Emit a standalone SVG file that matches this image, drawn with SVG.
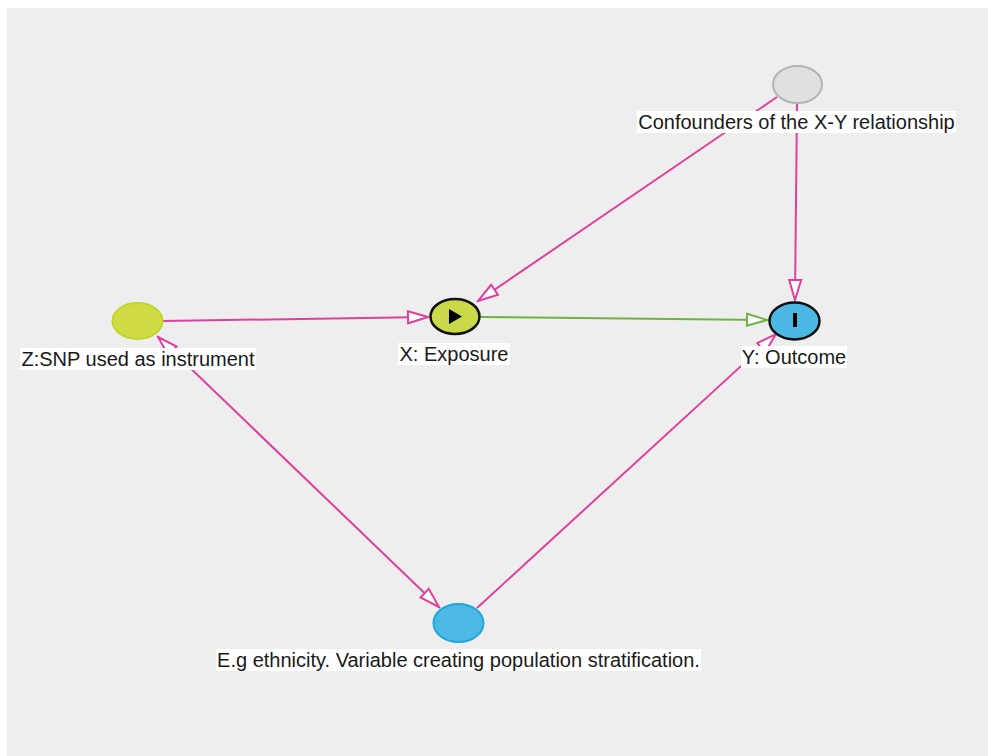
<svg xmlns="http://www.w3.org/2000/svg" width="988" height="756" viewBox="0 0 988 756">
  <style>
    .edge { fill: none; stroke-width: 2; }
    .pink { stroke: #e0409c; }
    .green { stroke: #6fb342; }
    .label { font-family: "Liberation Sans", Arial, sans-serif; font-size: 20px; fill: #1a1a1a; text-anchor: middle; }
    .labelbg { fill: #ffffff; }
  </style>
  <defs>
    <marker id="arrowPink" markerUnits="userSpaceOnUse" markerWidth="24" markerHeight="16" viewBox="-2 -2 24 16" refX="20" refY="6" orient="auto-start-reverse">
      <path d="M0,0 L20,6 L0,12 Z" fill="#ffffff" stroke="#e0409c" stroke-width="2"/>
    </marker>
    <marker id="arrowGreen" markerUnits="userSpaceOnUse" markerWidth="24" markerHeight="16" viewBox="-2 -2 24 16" refX="20" refY="6" orient="auto">
      <path d="M0,0 L20,6 L0,12 Z" fill="#ffffff" stroke="#6fb342" stroke-width="2"/>
    </marker>
  </defs>

  <!-- canvas -->
  <rect x="0" y="0" width="988" height="756" fill="#ffffff"/>
  <rect x="7" y="8" width="981" height="748" fill="#eeeeee"/>

  <!-- connectors -->
  <g id="edges">
    <line class="edge pink" x1="777" y1="97" x2="478" y2="301" marker-end="url(#arrowPink)"/>
    <line class="edge pink" x1="797" y1="104" x2="795" y2="300" marker-end="url(#arrowPink)"/>
    <line class="edge pink" x1="163" y1="321" x2="428" y2="317" marker-end="url(#arrowPink)"/>
    <line class="edge green" x1="481" y1="317" x2="767" y2="320" marker-end="url(#arrowGreen)"/>
    <line class="edge pink" x1="158" y1="337" x2="439" y2="607" marker-start="url(#arrowPink)" marker-end="url(#arrowPink)"/>
    <line class="edge pink" x1="477" y1="608" x2="776" y2="334" marker-end="url(#arrowPink)"/>
  </g>

  <!-- confounders -->
  <g id="node-confounders">
    <ellipse cx="797.5" cy="84.5" rx="24.5" ry="18.5" fill="#e0e0e0" stroke="#b3b3b3" stroke-width="2"/>
    <rect class="labelbg" x="637" y="111" width="319" height="22"/>
    <text class="label" x="796.5" y="129">Confounders of the X-Y relationship</text>
  </g>

  <!-- exposure -->
  <g id="node-exposure">
    <ellipse cx="455" cy="316.5" rx="24.5" ry="17.5" fill="#c9d94a" stroke="#111111" stroke-width="2.5"/>
    <path d="M449,309 L449,324 L462,316.5 Z" fill="#000000"/>
    <rect class="labelbg" x="398" y="343" width="112" height="22"/>
    <text class="label" x="454" y="361">X: Exposure</text>
  </g>

  <!-- outcome -->
  <g id="node-outcome">
    <ellipse cx="794.5" cy="321" rx="25" ry="18.5" fill="#4bb8e3" stroke="#111111" stroke-width="2.5"/>
    <rect x="793" y="313" width="4" height="14" fill="#000000"/>
    <rect class="labelbg" x="741" y="346" width="106" height="22"/>
    <text class="label" x="794" y="364">Y: Outcome</text>
  </g>

  <!-- instrument -->
  <g id="node-instrument">
    <ellipse cx="137.5" cy="321" rx="25" ry="18" fill="#cfdc45" stroke="#c2d52a" stroke-width="2"/>
    <rect class="labelbg" x="20" y="348" width="236" height="22"/>
    <text class="label" x="138" y="366">Z:SNP used as instrument</text>
  </g>

  <!-- stratification -->
  <g id="node-stratification">
    <ellipse cx="458.5" cy="623" rx="25" ry="19" fill="#4cb9e5" stroke="#1ea6de" stroke-width="2"/>
    <rect class="labelbg" x="216" y="649" width="485" height="22"/>
    <text class="label" x="458.5" y="667">E.g ethnicity. Variable creating population stratification.</text>
  </g>
</svg>
